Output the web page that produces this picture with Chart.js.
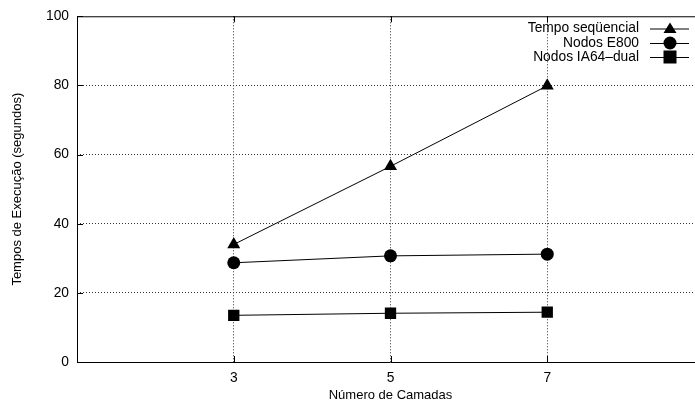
<!DOCTYPE html>
<html>
<head>
<meta charset="utf-8">
<script src="https://cdn.jsdelivr.net/npm/chart.js@4"></script>
<style>
  html, body { margin: 0; padding: 0; background: #fff; overflow: hidden; }
  #wrap { width: 712px; height: 405px; }
</style>
</head>
<body>
<div id="wrap"><canvas id="myChart" width="712" height="405"></canvas></div>
<script>
// valores
const camadas = [3, 5, 7];
const tempoSequencial = [34, 56.6, 79.9];
const nodosE800 = [28.7, 30.7, 31.2];
const nodosIA64 = [13.5, 14.1, 14.4];
const seriesNames = ['Tempo seqüencial', 'Nodos E800', 'Nodos IA64\u2013dual'];
const yTicks = [0, 20, 40, 60, 80, 100];
const xTicks = [3, 5, 7];

const FONT = '"Liberation Sans", Arial, Helvetica, sans-serif';

const toPoints = (vals) => camadas.map((c, i) => ({ x: c, y: vals[i] }));

// legenda e bordas no estilo gnuplot
const gnuplotStyle = {
    id: 'gnuplotStyle',
    afterDraw: (chart) => {
        const ctx = chart.ctx;
        const area = chart.chartArea;
        const xs = chart.scales.x;
        const ys = chart.scales.y;
        ctx.save();
        ctx.strokeStyle = '#000';
        ctx.lineWidth = 1;
        // bordas sólidas (superior, esquerda, inferior)
        ctx.beginPath();
        ctx.moveTo(area.left, area.top + 0.5);
        ctx.lineTo(area.right, area.top + 0.5);
        ctx.moveTo(area.left + 0.5, area.top);
        ctx.lineTo(area.left + 0.5, area.bottom);
        ctx.moveTo(area.left, area.bottom + 0.5);
        ctx.lineTo(area.right, area.bottom + 0.5);
        ctx.stroke();
        // marcas dos ticks para dentro
        ctx.beginPath();
        yTicks.forEach((v) => {
            const y = Math.round(ys.getPixelForValue(v)) + 0.5;
            ctx.moveTo(area.left, y);
            ctx.lineTo(area.left + 6, y);
        });
        xTicks.forEach((v) => {
            const x = Math.round(xs.getPixelForValue(v)) + 0.5;
            ctx.moveTo(x, area.bottom);
            ctx.lineTo(x, area.bottom - 6);
            ctx.moveTo(x, area.top);
            ctx.lineTo(x, area.top + 6);
        });
        ctx.stroke();

        // legenda
        ctx.font = '13.8px ' + FONT;
        ctx.fillStyle = '#000';
        ctx.textAlign = 'right';
        ctx.textBaseline = 'middle';
        const textRight = 639;
        const lineX1 = 650, lineX2 = 689, markX = 670;
        const rows = [28.5, 43, 57];
        chart.data.datasets.forEach((ds, i) => {
            const y = rows[i];
            ctx.fillText(ds.label, textRight, y);
            ctx.beginPath();
            ctx.moveTo(lineX1, y + 0.5);
            ctx.lineTo(lineX2, y + 0.5);
            ctx.stroke();
            ctx.beginPath();
            if (ds.pointStyle === 'triangle') {
                ctx.moveTo(markX, y - 6);
                ctx.lineTo(markX + 6.5, y + 4.5);
                ctx.lineTo(markX - 6.5, y + 4.5);
                ctx.closePath();
            } else if (ds.pointStyle === 'circle') {
                ctx.arc(markX, y, 6.5, 0, Math.PI * 2);
            } else {
                ctx.rect(markX - 6.5, y - 6.5, 13, 13);
            }
            ctx.fill();
        });
        ctx.restore();
    }
};

const ctx = document.getElementById('myChart').getContext('2d');
const myChart = new Chart(ctx, {
    type: 'line',
    data: {
        datasets: [
            { label: seriesNames[0], data: toPoints(tempoSequencial), pointStyle: 'triangle', pointRadius: 7.5 },
            { label: seriesNames[1], data: toPoints(nodosE800), pointStyle: 'circle', pointRadius: 6.5 },
            { label: seriesNames[2], data: toPoints(nodosIA64), pointStyle: 'rect', pointRadius: 8 }
        ].map((ds) => Object.assign(ds, {
            borderColor: '#000',
            backgroundColor: '#000',
            pointBackgroundColor: '#000',
            pointBorderColor: '#000',
            pointBorderWidth: 0,
            borderWidth: 1,
            fill: false,
            tension: 0
        }))
    },
    options: {
        responsive: false,
        animation: false,
        layout: { padding: { top: 15, right: 6, left: 0, bottom: 0 } },
        plugins: {
            legend: { display: false },
            tooltip: { enabled: false }
        },
        scales: {
            x: {
                type: 'linear',
                min: 1,
                max: 9,
                afterBuildTicks: (scale) => { scale.ticks = xTicks.map((v) => ({ value: v })); },
                afterFit: (scale) => { scale.height = 43; },
                grid: {
                    drawTicks: false,
                    color: '#333',
                    lineWidth: 1
                },
                border: { display: false, dash: [1, 2] },
                ticks: {
                    color: '#000',
                    padding: 8,
                    font: { family: FONT, size: 13.8 }
                },
                title: {
                    display: true,
                    text: 'Número de Camadas',
                    color: '#000',
                    padding: { top: 0, bottom: 2 },
                    font: { family: FONT, size: 13 }
                }
            },
            y: {
                min: 0,
                max: 100,
                afterBuildTicks: (scale) => { scale.ticks = yTicks.map((v) => ({ value: v })); },
                afterFit: (scale) => { scale.width = 77; },
                grid: {
                    drawTicks: false,
                    color: (c) => (c.tick && c.tick.value === 100) ? 'rgba(0,0,0,0)' : '#333',
                    lineWidth: 1
                },
                border: { display: false, dash: [1, 2] },
                ticks: {
                    color: '#000',
                    padding: 8,
                    font: { family: FONT, size: 13.8 }
                },
                title: {
                    display: true,
                    text: 'Tempos de Execução (segundos)',
                    color: '#000',
                    padding: { top: 10, bottom: 0 },
                    font: { family: FONT, size: 13 }
                }
            }
        }
    },
    plugins: [gnuplotStyle]
});
</script>
</body>
</html>
